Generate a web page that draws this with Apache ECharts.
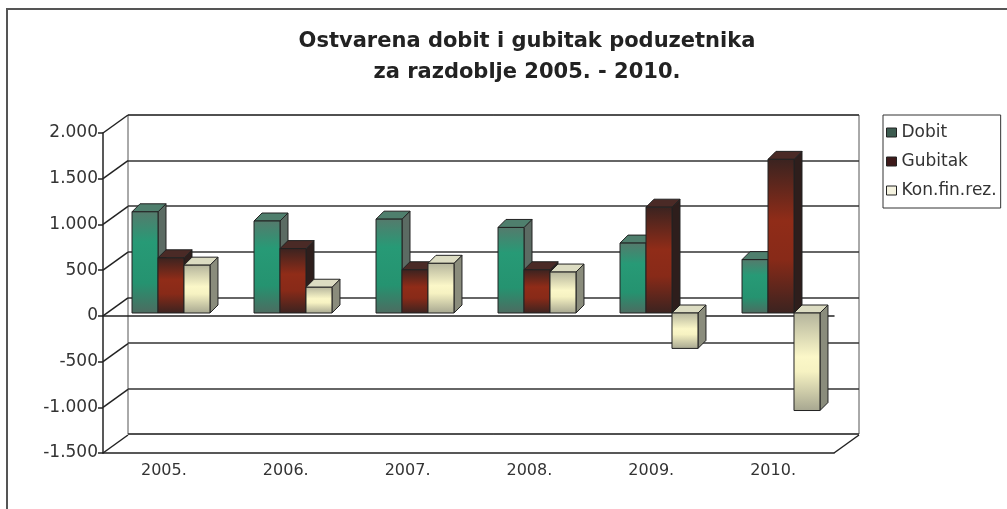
<!DOCTYPE html>
<html>
<head>
<meta charset="utf-8">
<script src="https://cdn.jsdelivr.net/npm/echarts@6/dist/echarts.min.js"></script>
<style>
  html, body { margin: 0; padding: 0; background: #fff; }
  #chart { width: 1007px; height: 509px; }
</style>
</head>
<body>
<div id="chart"></div>
<script>
// podaci
const years = ['2005.', '2006.', '2007.', '2008.', '2009.', '2010.'];
const dobit = [1100, 1000, 1020, 930, 760, 580];
const gubitak = [600, 700, 470, 470, 1150, 1670];
const konFinRez = [520, 280, 540, 445, -385, -1060];
const yTicks = [-1500, -1000, -500, 0, 500, 1000, 1500, 2000];
const yTickLabels = ['-1.500', '-1.000', '-500', '0', '500', '1.000', '1.500', '2.000'];
const seriesNames = ['Dobit', 'Gubitak', 'Kon.fin.rez.'];

const FONT = 'DejaVu Sans';
const DEPTH = 8;      // dubina stupca
const WALL_DX = 25;   // pomak straznjeg zida
const WALL_DY = 18;

const palettes = [
  { // Dobit
    front: [{offset: 0, color: '#557a6c'}, {offset: 0.3, color: '#279a76'}, {offset: 0.7, color: '#259370'}, {offset: 1, color: '#4d6b60'}],
    top: '#4f7f6d', side: '#5b6b63', legend: '#3d5c50'
  },
  { // Gubitak
    front: [{offset: 0, color: '#3a2320'}, {offset: 0.4, color: '#902c18'}, {offset: 0.65, color: '#882a18'}, {offset: 1, color: '#3a2320'}],
    top: '#4a2a26', side: '#2e1e1c', legend: '#3d1a1a'
  },
  { // Kon.fin.rez.
    front: [{offset: 0, color: '#b4b49c'}, {offset: 0.45, color: '#fbf7c8'}, {offset: 0.6, color: '#f6f2c2'}, {offset: 1, color: '#a6a690'}],
    top: '#dcdcc2', side: '#8a8c7c', legend: '#f5f3e0'
  }
];

const yFmt = v => {
  const i = yTicks.indexOf(v);
  return i >= 0 ? yTickLabels[i] : '';
};

function barSeries(name, values, k) {
  const pal = palettes[k];
  return {
    name: name,
    type: 'custom',
    xAxisIndex: 3,
    yAxisIndex: 3,
    z: 5,
    data: values.map((v, i) => [i, v]),
    itemStyle: { color: pal.legend },
    renderItem: function (params, api) {
      const i = api.value(0), v = api.value(1);
      const base = api.coord([i, 0]);
      const tip = api.coord([i, v]);
      const bw = api.size([1, 0])[0] * 0.213;
      const x0 = base[0] + (k - 1.5) * bw, x1 = x0 + bw;
      const yt = Math.min(base[1], tip[1]), yb = Math.max(base[1], tip[1]);
      const d = DEPTH;
      return {
        type: 'group',
        children: [
          { type: 'polygon', shape: { points: [[x1, yt], [x1 + d, yt - d], [x1 + d, yb - d], [x1, yb]] },
            style: { fill: pal.side, stroke: '#222', lineWidth: 1 } },
          { type: 'polygon', shape: { points: [[x0, yt], [x1, yt], [x1 + d, yt - d], [x0 + d, yt - d]] },
            style: { fill: pal.top, stroke: '#222', lineWidth: 1 } },
          { type: 'rect', shape: { x: x0, y: yt, width: bw, height: yb - yt },
            style: { fill: { type: 'linear', x: 0, y: 0, x2: 0, y2: 1, colorStops: pal.front }, stroke: '#222', lineWidth: 1 } }
        ]
      };
    }
  };
}

// kose linije bocnog zida i poda
const wallSeries = {
  type: 'custom',
  xAxisIndex: 1,
  yAxisIndex: 1,
  z: 1,
  silent: true,
  data: yTicks.map(v => [0, v]),
  renderItem: function (params, api) {
    const cs = params.coordSys;
    const v = api.value(1);
    const y = api.coord([0, v])[1];
    const children = [
      { type: 'line', shape: { x1: cs.x, y1: y, x2: cs.x + WALL_DX, y2: y - WALL_DY },
        style: { stroke: '#222', lineWidth: 1.5 } }
    ];
    if (v === yTicks[0]) {
      children.push({ type: 'line', shape: { x1: cs.x + cs.width, y1: y, x2: cs.x + cs.width + WALL_DX, y2: y - WALL_DY },
        style: { stroke: '#222', lineWidth: 1.5 } });
    }
    return { type: 'group', children: children };
  }
};

const chart = echarts.init(document.getElementById('chart'));

const option = {
  backgroundColor: '#fff',
  animation: false,
  title: {
    text: 'Ostvarena dobit i gubitak poduzetnika\nza razdoblje 2005. - 2010.',
    left: 527,
    top: 26,
    padding: 0,
    textAlign: 'center',
    textStyle: { fontFamily: FONT, fontSize: 21, fontWeight: 'bold', color: '#222', lineHeight: 31 }
  },
  legend: {
    orient: 'vertical',
    left: 883,
    top: 115,
    padding: [9, 4, 9, 3],
    itemGap: 12,
    itemWidth: 10,
    itemHeight: 9,
    icon: 'rect',
    borderColor: '#333',
    borderWidth: 1,
    textStyle: { fontFamily: FONT, fontSize: 17, color: '#333' },
    data: seriesNames.map((n, i) => ({
      name: n,
      itemStyle: { color: palettes[i].legend, borderColor: '#222', borderWidth: 1 }
    }))
  },
  graphic: [{
    type: 'rect',
    z: -10,
    shape: { x: 7, y: 9, width: 1200, height: 700 },
    style: { fill: 'none', stroke: '#555', lineWidth: 2 }
  }],
  grid: [
    { left: 128, top: 115, width: 731, height: 319, show: true, backgroundColor: '#fff', borderColor: '#555', borderWidth: 1 },
    { left: 103, top: 133, width: 731, height: 320 },
    { left: 103, top: 133, width: 731, height: 320 },
    { left: 110, top: 129, width: 732, height: 322 }
  ],
  xAxis: [
    { gridIndex: 0, type: 'category', data: years, show: false },
    { gridIndex: 1, type: 'category', data: years, position: 'bottom',
      axisLine: { onZero: false, lineStyle: { color: '#222', width: 1.5 } },
      axisTick: { length: 6, lineStyle: { color: '#222', width: 1.5 } },
      axisLabel: { margin: 10, fontFamily: FONT, fontSize: 16, color: '#333' } },
    { gridIndex: 2, type: 'category', data: years,
      axisLine: { onZero: true, lineStyle: { color: '#222', width: 1.5 } },
      axisTick: { length: 4, lineStyle: { color: '#222' } },
      axisLabel: { show: false } },
    { gridIndex: 3, type: 'category', data: years, show: false }
  ],
  yAxis: [
    { gridIndex: 0, type: 'value', min: -1500, max: 2000, interval: 500,
      axisLine: { show: false }, axisTick: { show: false }, axisLabel: { show: false },
      splitLine: { show: true, lineStyle: { color: '#333', width: 1.5 } } },
    { gridIndex: 1, type: 'value', min: -1500, max: 2000, interval: 500,
      axisLine: { show: true, lineStyle: { color: '#222', width: 1.5 } },
      axisTick: { show: true, length: 5, lineStyle: { color: '#222', width: 1.5 } },
      splitLine: { show: false },
      axisLabel: { margin: 5, fontFamily: FONT, fontSize: 17, color: '#333', formatter: yFmt } },
    { gridIndex: 2, type: 'value', min: -1500, max: 2000, interval: 500, show: false, splitLine: { show: false } },
    { gridIndex: 3, type: 'value', min: -1500, max: 2000, interval: 500, show: false, splitLine: { show: false } }
  ],
  series: [
    wallSeries,
    barSeries(seriesNames[0], dobit, 0),
    barSeries(seriesNames[1], gubitak, 1),
    barSeries(seriesNames[2], konFinRez, 2)
  ]
};

chart.setOption(option);
</script>
</body>
</html>
